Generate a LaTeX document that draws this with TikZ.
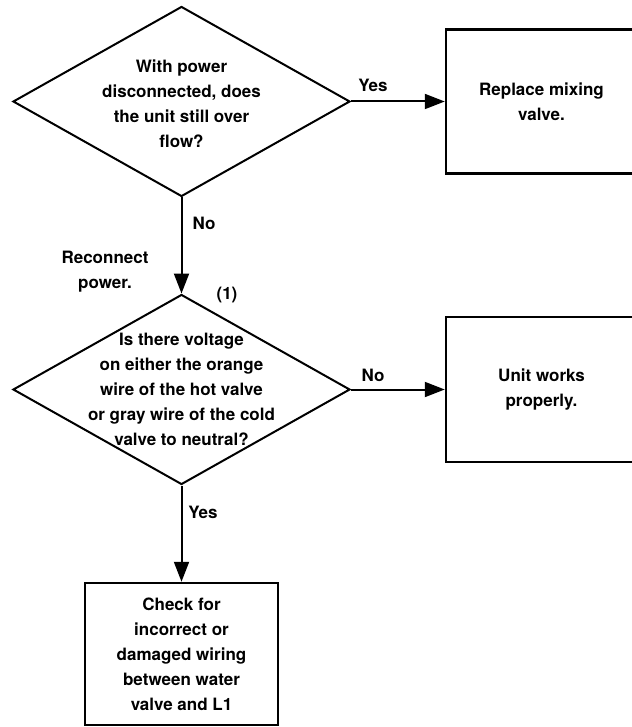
\documentclass[tikz,border=0pt]{standalone}
\usepackage{fontspec}
\setmainfont{TeX Gyre Heros}
\usetikzlibrary{shapes.geometric}
\usetikzlibrary{arrows.meta}

\begin{document}
\begin{tikzpicture}[
            x=1pt, y=-1pt,
            decision/.style={diamond, draw, line width=2pt, inner sep=0pt,
                minimum width=337pt, minimum height=190pt},
            outcome/.style={rectangle, draw, line width=2.5pt, inner sep=0pt,
                font=\bfseries\fontsize{17}{25}\selectfont, align=center},
            txt/.style={font=\bfseries\fontsize{17}{25}\selectfont, align=center},
            lbl/.style={font=\bfseries\fontsize{17}{25}\selectfont, align=center},
            flow/.style={-{Triangle[length=20pt, width=15pt]}, line width=2pt},
        ]
            \useasboundingbox (0, 0) rectangle (631, 727);

            %% first check, power off
            \node[decision] (q1) at (181.5, 101.5) {};
            \node[txt] (q1txt) at (181.5, 104) {With power\\disconnected, does\\the unit still over\\flow?};
            \node[outcome, minimum width=191pt, minimum height=144pt] (fix) at (541.5, 101.5)
                {Replace mixing\\valve.};

            %% second check, power back on
            \node[decision] (q2) at (181.5, 389.5) {};
            \node[txt] (q2txt) at (181.5, 389.5) {Is there voltage\\on either the orange\\wire of the hot valve\\or gray wire of the cold\\valve to neutral?};
            \node[outcome, minimum width=191pt, minimum height=145pt] (ok) at (541.5, 389.5)
                {Unit works\\properly.};
            \node[outcome, minimum width=193pt, minimum height=142pt] (wiring) at (181.5, 654)
                {Check for\\incorrect or\\damaged wiring\\between water\\valve and L1};

            \draw[flow] (q1.east) -- (fix.west);
            \draw[flow] (q1.south) -- (q2.north);
            \draw[flow] (q2.east) -- (ok.west);
            \draw[flow] (q2.south) -- (wiring.north);

            \node[lbl] (yes1) at (373, 85) {Yes};
            \node[lbl] (no1) at (204, 223) {No};
            \node[lbl] (power) at (105, 272) {Reconnect\\power.};
            \node[lbl] (step1) at (227, 295) {(1)};
            \node[lbl] (no2) at (373, 375) {No};
            \node[lbl] (yes2) at (203, 512) {Yes};
        \end{tikzpicture}
\end{document}
